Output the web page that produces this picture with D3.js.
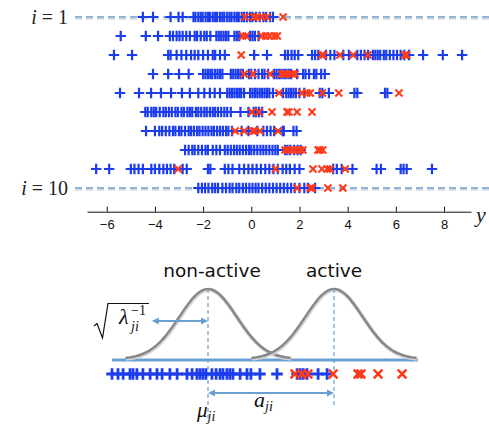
<!DOCTYPE html>
<html><head><meta charset="utf-8">
<script src="https://cdn.jsdelivr.net/npm/d3@7"></script>
<style>body{margin:0;background:#fff}svg{display:block}</style>
</head><body><svg id="c" width="489" height="431"></svg>
<script>
// ---------- data ----------
const rowIds = [1,2,3,4,5,6,7,8,9,10];
const axisTicks = [-6,-4,-2,0,2,4,6,8];
const blueRows = [
 [-4.5,-4.08,-3.35,-3.02,-2.85,-2.4,-2.32,-2.2,-2.1,-2.02,-1.9,-1.8,-1.72,-1.6,-1.5,-1.42,-1.3,-1.2,-1.12,-1.0,-0.9,-0.82,-0.7,-0.6,-0.52,-0.4,-0.3,-0.18,-0.05,0.05,0.2,0.35,0.5,0.62,0.78,0.9],
 [-5.42,-4.38,-3.87,-3.38,-3.25,-3.1,-2.98,-2.85,-2.7,-2.55,-2.35,-2.25,-2.1,-1.95,-1.85,-1.7,-1.45,-1.35,-1.25,-1.15,-1.05,-0.95,-0.7,-0.6,-0.5,-0.05,0.05,0.15,0.3],
 [-5.7,-4.95,-3.45,-3.35,-3.1,-2.9,-2.7,-2.5,-2.35,-2.2,-2.0,-1.8,-1.6,-1.5,-1.3,-1.1,0.12,0.65,1.4,1.52,1.67,1.8,1.95,2.52,2.65,2.78,3.1,3.28,3.45,3.82,4.05,4.4,4.55,4.7,4.85,5.05,5.15,5.25,5.35,5.5,5.6,5.75,5.9,6.05,6.2,6.35,6.55,7.13,7.95,8.75],
 [-4.08,-3.45,-3.0,-2.6,-2.0,-1.9,-1.8,-1.7,-1.62,-1.5,-1.4,-1.3,-1.2,-0.85,-0.75,-0.65,-0.55,-0.45,-0.35,-0.1,0.0,0.15,0.3,0.45,0.55,0.7,0.95,1.05,1.15,1.25,1.35,1.45,1.55,1.65,1.9,2.15,2.25,2.4,2.6,2.7,2.9,3.05],
 [-5.45,-4.66,-4.16,-3.75,-3.33,-2.88,-2.55,-2.2,-1.95,-1.72,-1.52,-1.3,-1.0,-0.9,-0.8,-0.7,-0.6,-0.5,-0.42,-0.3,-0.05,0.05,0.15,0.25,0.35,0.45,0.55,0.65,0.75,0.9,1.32,1.45,1.55,1.65,1.75,1.85,2.0,2.2,2.84,2.95,3.22,4.28,4.4,5.55,5.65],
 [-4.4,-4.3,-4.15,-4.05,-3.95,-3.8,-3.65,-3.55,-3.42,-3.3,-3.15,-3.05,-2.9,-2.8,-2.65,-2.55,-2.45,-2.3,-2.2,-2.08,-1.95,-1.85,-1.72,-1.6,-1.5,-1.38,-1.25,-1.12,-1.0,-0.85,-0.45,-0.12,0.1,0.2,0.32,0.45],
 [-4.37,-4.0,-3.82,-3.7,-3.55,-3.4,-3.25,-3.15,-3.0,-2.9,-2.75,-2.6,-2.5,-2.38,-2.25,-2.15,-2.02,-1.9,-1.78,-1.65,-1.55,-1.42,-1.3,-1.18,-1.05,-0.95,-0.8,-0.4,-0.12,0.25,0.5,0.65,0.8,0.95,1.3,1.35,1.75,1.88],
 [-2.75,-2.6,-2.45,-2.35,-2.2,-2.05,-1.9,-1.8,-1.6,-1.45,-1.3,-1.1,-0.98,-0.85,-0.72,-0.6,-0.48,-0.35,-0.22,-0.1,0.0,0.12,0.25,0.38,0.5,0.62,0.75,0.88,1.0,1.1,1.4,1.5,1.62,1.78,1.92,2.05],
 [-6.44,-5.9,-5.0,-4.85,-4.68,-4.5,-4.15,-4.0,-3.82,-3.65,-3.5,-3.35,-3.2,-2.85,-2.68,-1.8,-1.7,-1.1,-0.95,-0.78,-0.5,-0.3,-0.12,0.05,0.22,0.4,0.58,0.75,0.92,1.1,1.3,1.45,1.6,1.8,2.0,3.4,3.55,3.75,4.2,5.2,5.38,6.2,6.32,6.45,7.5],
 [-2.2,-2.05,-1.92,-1.78,-1.62,-1.5,-1.38,-1.2,-1.05,-0.9,-0.78,-0.62,-0.5,-0.35,-0.22,-0.08,0.05,0.18,0.3,0.45,0.6,0.75,0.9,1.05,1.2,1.35,1.5,1.65,1.8,2.0,2.2,2.35,2.65]
];
const redRows = [
 [-0.26,0.1,0.24,0.45,0.65,1.32],
 [-0.36,-0.22,0.44,0.6,0.77,0.95,1.08],
 [-0.42,2.93,3.0,3.68,4.23,4.84,6.37,6.45],
 [-0.3,0.07,0.78,1.25,1.36,1.46,1.58,1.7,1.82],
 [1.15,2.1,2.3,2.45,2.95,3.63,6.13],
 [0.03,0.32,0.86,1.48,1.56,1.9,2.52],
 [-0.67,-0.3,0.07,0.15,0.36,1.11],
 [1.4,1.52,1.69,1.85,2.02,2.14,2.77,2.85,2.97],
 [-3.04,1.0,2.56,2.93,3.15,3.27,3.9],
 [1.9,2.45,2.53,3.18,3.8]
];
// schematic (lower diagram)
const diagBlue = [-3.2,-3.0,-2.83,-2.6,-2.5,-2.37,-2.17,-1.93,-1.7,-1.53,-1.27,-1.03,-0.7,-0.53,-0.37,-0.27,-0.17,-0.07,0.13,0.27,0.4,0.5,0.63,0.73,0.83,1.07,1.3,1.43,1.73,2.3,2.97,3.07,3.17,3.3,3.67,3.97];
const diagRed = [2.9,3.13,3.33,4.17,5.0,5.1,5.67,6.47];
const diagMeans = [0, 4.2];
const diagSigma = 0.95;
const diagLabels = ["non-active","active"];

// ---------- drawing ----------
const BLUE = "#1c3cf0", RED = "#ff3a1a";
const svg = d3.select("#c");
svg.append("rect").attr("width",489).attr("height",431).attr("fill","#fff");

const x = d3.scaleLinear().domain([-6.82, 9.12]).range([87, 471]);
const y = d3.scaleLinear().domain([1,10]).range([17,188]);

// dashed guide lines for i=1 and i=10
[1,10].forEach(r=>{
  svg.append("line").attr("x1",75).attr("x2",489).attr("y1",y(r)+1).attr("y2",y(r)+1)
    .attr("stroke","#cfdbe7").attr("stroke-width",3.4).attr("stroke-dasharray","7,4");
  svg.append("line").attr("x1",75).attr("x2",489).attr("y1",y(r)).attr("y2",y(r))
    .attr("stroke","#7fa5cc").attr("stroke-width",1.6).attr("stroke-dasharray","7,4");
});

const plusPath = s => `M${-s},0H${s}M0,${-s}V${s}`;
const xPath = s => `M${-s},${-s}L${s},${s}M${-s},${s}L${s},${-s}`;

rowIds.forEach((r,i)=>{
  const g = svg.append("g");
  g.selectAll("path.b").data(blueRows[i]).join("path").attr("class","b")
    .attr("d",plusPath(5.2)).attr("transform",d=>`translate(${x(d)},${y(r)})`)
    .attr("stroke",BLUE).attr("stroke-width",2.2).attr("fill","none");
  g.selectAll("path.r").data(redRows[i]).join("path").attr("class","r")
    .attr("d",xPath(3.5)).attr("transform",d=>`translate(${x(d)},${y(r)})`)
    .attr("stroke",RED).attr("stroke-width",2.1).attr("fill","none");
});

// row labels
[1,10].forEach(r=>{
  const t = svg.append("text").attr("x",68).attr("y",y(r)+6.5).attr("text-anchor","end")
    .attr("font-family","'Liberation Serif','DejaVu Serif',serif").attr("font-size",20).attr("fill","#222");
  t.append("tspan").attr("font-style","italic").text("i");
  t.append("tspan").text(" = " + r);
});

// x axis
const ax = svg.append("g").attr("transform","translate(0,211.7)")
  .call(d3.axisBottom(x).tickValues(axisTicks).tickSizeInner(-5).tickSizeOuter(0).tickPadding(8));
ax.select(".domain").attr("stroke","#111");
ax.selectAll(".tick line").attr("stroke","#111");
ax.selectAll("text").attr("font-family","'Liberation Sans',Arial,sans-serif").attr("font-size",13).attr("fill","#111");
svg.append("text").attr("x",476).attr("y",222).attr("font-family","'Liberation Serif','DejaVu Serif',serif")
  .attr("font-style","italic").attr("font-size",22).attr("fill","#222").text("y");

// ---------- lower diagram ----------
const xd = d3.scaleLinear().domain([-3.2, 7.0]).range([112, 418]);
const yd = d3.scaleLinear().domain([0,1]).range([359, 289]);
const LB = "#6b9fd2";

// baseline
svg.append("line").attr("x1",xd(-3.2)).attr("x2",xd(7.0)).attr("y1",360).attr("y2",360)
  .attr("stroke",LB).attr("stroke-width",3);

// gaussians
const gline = d3.line().x(d=>xd(d[0])).y(d=>yd(d[1])).curve(d3.curveBasis);
diagMeans.forEach(m=>{
  const pts = d3.range(-2.75, 2.7501, 0.05).map(u=>[m+u, Math.exp(-0.5*(u/diagSigma)**2)]);
  svg.append("path").attr("d",gline(pts)).attr("fill","none").attr("stroke","#d4d4d4").attr("stroke-width",4).attr("transform","translate(0.6,0.8)");
  svg.append("path").attr("d",gline(pts)).attr("fill","none").attr("stroke","#878787").attr("stroke-width",2.4);
});

// dashed verticals
svg.append("line").attr("x1",xd(diagMeans[0])).attr("x2",xd(diagMeans[0])).attr("y1",289).attr("y2",418)
  .attr("stroke",LB).attr("stroke-width",1.2).attr("stroke-dasharray","4,3");
svg.append("line").attr("x1",xd(diagMeans[1])).attr("x2",xd(diagMeans[1])).attr("y1",289).attr("y2",406)
  .attr("stroke",LB).attr("stroke-width",1.2).attr("stroke-dasharray","4,3");

// labels
diagLabels.forEach((l,i)=>{
  svg.append("text").attr("x",xd(diagMeans[i])+(i?0:4)).attr("y",277).attr("text-anchor","middle")
    .attr("font-family","'DejaVu Sans',sans-serif").attr("font-size",18.5).attr("fill","#111").text(l);
});

// arrows
function dblArrow(x1,x2,yy){
  svg.append("line").attr("x1",x1+4).attr("x2",x2-4).attr("y1",yy).attr("y2",yy).attr("stroke",LB).attr("stroke-width",2);
  svg.append("path").attr("d",`M${x1},${yy}L${x1+7},${yy-3.5}L${x1+7},${yy+3.5}Z`).attr("fill",LB);
  svg.append("path").attr("d",`M${x2},${yy}L${x2-7},${yy-3.5}L${x2-7},${yy+3.5}Z`).attr("fill",LB);
}
dblArrow(xd(-1.87), xd(diagMeans[0]), 321);
dblArrow(xd(diagMeans[0]), xd(diagMeans[1]), 393);

// diagram markers
svg.append("g").selectAll("path").data(diagBlue).join("path")
  .attr("d",plusPath(5.8)).attr("transform",d=>`translate(${xd(d)},374)`)
  .attr("stroke",BLUE).attr("stroke-width",2.8).attr("fill","none");
svg.append("g").selectAll("path").data(diagRed).join("path")
  .attr("d",xPath(4.3)).attr("transform",d=>`translate(${xd(d)},374)`)
  .attr("stroke",RED).attr("stroke-width",2.6).attr("fill","none");

// sqrt(lambda_ji^-1)
svg.append("path").attr("d","M94,326L97,323.5L102.5,338L108,303.5H149").attr("fill","none")
  .attr("stroke","#111").attr("stroke-width",1.2);
const SER = "'Liberation Serif','DejaVu Serif',serif";
svg.append("text").attr("x",119).attr("y",324).attr("font-family",SER).attr("font-style","italic").attr("font-size",22).attr("fill","#111").text("λ");
svg.append("text").attr("x",131).attr("y",315).attr("font-family",SER).attr("font-size",14).attr("fill","#111").text("−1");
svg.append("text").attr("x",131).attr("y",331).attr("font-family",SER).attr("font-style","italic").attr("font-size",14).attr("fill","#111").text("ji");

// mu_ji and a_ji
const mu = svg.append("text").attr("x",197).attr("y",417).attr("font-family",SER).attr("font-style","italic").attr("font-size",21).attr("fill","#111");
mu.append("tspan").text("μ");
mu.append("tspan").attr("font-size",14).attr("dy",4).text("ji");
const aj = svg.append("text").attr("x",254).attr("y",407).attr("font-family",SER).attr("font-style","italic").attr("font-size",22).attr("fill","#111");
aj.append("tspan").text("a");
aj.append("tspan").attr("font-size",14).attr("dy",4).text("ji");
</script></body></html>
